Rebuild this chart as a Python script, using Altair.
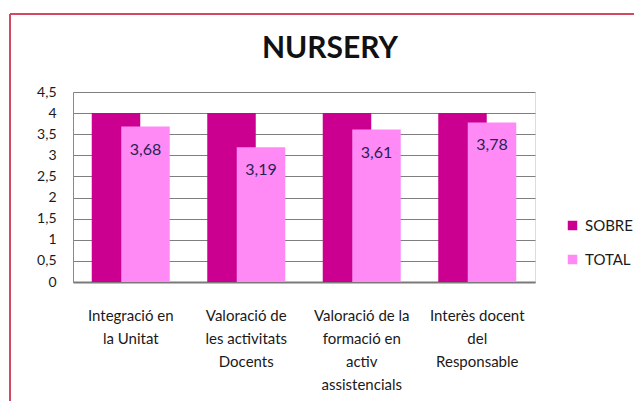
import altair as alt
import pandas as pd

categories = [
    "Integració en\nla Unitat",
    "Valoració de\nles activitats\nDocents",
    "Valoració de la\nformació en\nactiv\nassistencials",
    "Interès docent\ndel\nResponsable",
]
series = ["SOBRE", "TOTAL"]
sobre_values = [4, 4, 4, 4]
total_values = [3.68, 3.19, 3.61, 3.78]
y_ticks = [0, 0.5, 1, 1.5, 2, 2.5, 3, 3.5, 4, 4.5]
colors = ["#CC0090", "#FF8AF6"]

rows = []
for c, s, t in zip(categories, sobre_values, total_values):
    rows.append({"category": c, "series": "SOBRE", "value": s})
    rows.append({"category": c, "series": "TOTAL", "value": t})
df = pd.DataFrame(rows)

FONT = "Lato"
W, H = 462, 190

x_enc = alt.X(
    "category:N",
    sort=categories,
    scale=alt.Scale(paddingInner=0, paddingOuter=0),
    axis=alt.Axis(
        title=None,
        labelExpr="split(datum.label, '\\n')",
        labelAngle=0,
        labelFontSize=15,
        labelFont=FONT,
        labelColor="#1a1a1a",
        labelLineHeight=23,
        labelPadding=26,
        ticks=False,
        domainColor="#7a7a7a",
        domainWidth=2,
        labelBaseline="top",
        labelOverlap=False,
    ),
)
y_enc = alt.Y(
    "value:Q",
    scale=alt.Scale(domain=[0, 4.5], nice=False, zero=True),
    axis=alt.Axis(
        title=None,
        values=y_ticks,
        tickCount=10,
        labelExpr="replace(toString(datum.value), '.', ',')",
        labelFontSize=14,
        labelFont=FONT,
        labelColor="#1a1a1a",
        labelPadding=17,
        labelOverlap=False,
        labelFlush=False,
        labelBound=False,
        ticks=False,
        grid=True,
        gridColor="#7f7f7f",
        gridWidth=1,
        domainColor="#8a8a8a",
        domainWidth=1,
    ),
)
color_enc = alt.Color(
    "series:N",
    scale=alt.Scale(domain=series, range=colors),
    legend=alt.Legend(
        title=None,
        orient="none",
        legendX=492,
        legendY=126,
        symbolType="square",
        symbolSize=90,
        symbolStrokeWidth=0,
        labelFontSize=15,
        labelFont=FONT,
        labelColor="#1a1a1a",
        rowPadding=18,
        labelOffset=5,
    ),
)

base = alt.Chart(df).encode(x=x_enc, y=y_enc, color=color_enc)

sobre = base.transform_filter(alt.datum.series == "SOBRE").mark_bar(size=48.5, xOffset=-14.75)
total = base.transform_filter(alt.datum.series == "TOTAL").mark_bar(size=48.5, xOffset=14.75)

labels = (
    alt.Chart(df)
    .transform_filter(alt.datum.series == "TOTAL")
    .transform_calculate(lbl="replace(format(datum.value, '.2f'), '.', ',')")
    .mark_text(xOffset=14.75, dy=23, baseline="middle", fontSize=16, font=FONT, color="#1f2456")
    .encode(x=x_enc, y=y_enc, text="lbl:N")
)

frame_top = alt.Chart(df).mark_rule(color="#d24a62", strokeWidth=2).encode(
    x=alt.value(-63), x2=alt.value(570), y=alt.value(-78)
)
frame_left = alt.Chart(df).mark_rule(color="#d24a62", strokeWidth=2).encode(
    x=alt.value(-63), y=alt.value(-78), y2=alt.value(320)
)

chart = (
    alt.layer(frame_top, frame_left, sobre, total, labels)
    .properties(
        width=W,
        height=H,
        title=alt.TitleParams(
            "NURSERY",
            font=FONT,
            fontSize=30,
            fontWeight="bold",
            color="#111111",
            anchor="middle",
            baseline="alphabetic",
            dx=26,
            dy=97,
            offset=22,
        ),
        autosize=alt.AutoSizeParams(type="none"),
        padding={"left": 65, "top": 84, "right": 99, "bottom": 119},
    )
    .configure_view(stroke=None)
    .configure(background="white")
)

chart.save("out.html", embed_options={"renderer": "svg", "actions": False})
